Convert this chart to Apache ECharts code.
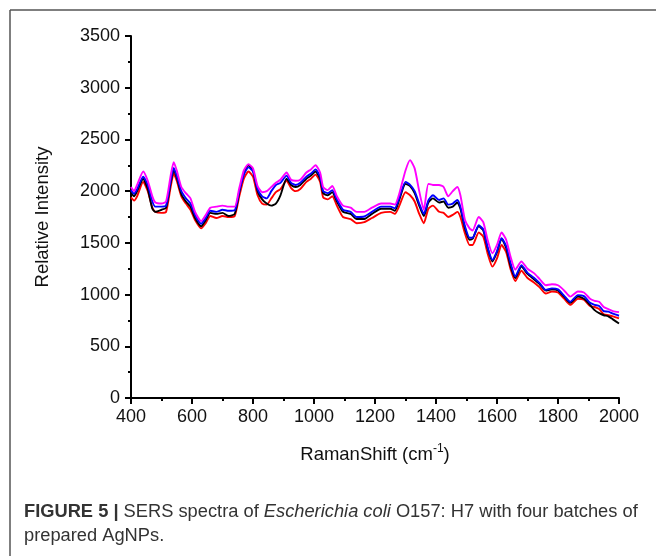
<!DOCTYPE html>
<html><head><meta charset="utf-8">
<script src="https://cdn.jsdelivr.net/npm/echarts@6/dist/echarts.min.js"></script>
<style>html,body{margin:0;padding:0;background:#fff}#c{width:656px;height:556px}</style>
</head><body><div id="c"></div>
<script>
const ramanShift = [400,410,420,440,455,470,480,500,515,530,540,550,565,580,595,610,630,645,660,680,700,720,740,755,770,785,800,815,830,845,860,875,890,910,925,940,955,975,990,1005,1020,1030,1045,1060,1075,1095,1120,1140,1165,1190,1220,1250,1265,1280,1300,1315,1330,1345,1360,1375,1390,1410,1425,1440,1455,1470,1480,1495,1510,1520,1540,1555,1570,1585,1600,1615,1630,1645,1660,1680,1700,1720,1740,1760,1780,1800,1820,1840,1865,1885,1905,1920,1935,1950,1965,1980,2000];

const batchBlack = [1990,1950,2000,2120,2020,1830,1800,1820,1840,2080,2200,2130,1970,1900,1850,1740,1660,1720,1790,1780,1790,1760,1780,1990,2170,2250,2200,2000,1920,1880,1860,1880,1960,2120,2060,2040,2060,2120,2150,2190,2120,1980,1960,1990,1900,1800,1780,1730,1730,1780,1830,1830,1810,1920,2070,2050,1980,1860,1760,1890,1930,1890,1900,1840,1850,1890,1830,1640,1530,1540,1660,1620,1440,1320,1410,1540,1450,1270,1160,1270,1200,1150,1100,1040,1050,1040,980,920,980,960,900,850,820,800,790,760,720];

const batchRed = [1940,1910,1950,2090,2000,1840,1800,1790,1800,2040,2170,2100,1950,1880,1820,1720,1640,1690,1760,1740,1760,1750,1760,1950,2120,2190,2140,1960,1880,1870,1930,1990,2020,2100,2030,2000,2020,2090,2120,2160,2090,1940,1920,1950,1860,1750,1730,1690,1700,1740,1790,1800,1780,1860,1990,1960,1900,1780,1690,1830,1860,1800,1790,1750,1770,1800,1750,1590,1480,1480,1600,1560,1390,1270,1350,1480,1410,1240,1130,1230,1160,1120,1070,1010,1030,1020,960,900,960,950,890,880,860,810,800,790,770];

const batchBlue = [2010,1975,2020,2140,2060,1900,1850,1850,1860,2100,2225,2150,2000,1930,1880,1770,1685,1740,1810,1800,1820,1810,1815,2000,2160,2230,2190,2020,1950,1930,2000,2060,2080,2150,2080,2060,2080,2140,2170,2210,2140,2000,1980,2010,1920,1820,1800,1750,1755,1800,1850,1850,1835,1940,2090,2060,2000,1880,1780,1910,1960,1915,1930,1870,1880,1915,1850,1660,1550,1550,1670,1630,1450,1335,1420,1545,1470,1300,1175,1285,1210,1165,1110,1045,1060,1050,990,930,995,985,920,900,890,840,835,815,795];

const batchMagenta = [2040,2000,2060,2190,2100,1950,1890,1880,1900,2150,2280,2200,2040,1980,1930,1800,1710,1770,1840,1850,1860,1850,1850,2030,2200,2260,2220,2050,1990,2000,2040,2080,2110,2180,2110,2100,2110,2180,2210,2250,2180,2040,2010,2050,1950,1860,1840,1800,1800,1840,1880,1880,1870,1980,2200,2300,2220,2000,1820,2070,2060,2060,2040,1950,2000,2040,1960,1720,1640,1620,1750,1700,1520,1400,1480,1600,1530,1360,1240,1320,1250,1210,1150,1090,1100,1090,1040,980,1030,1020,960,940,930,880,860,840,830];

const xTicks = [400,600,800,1000,1200,1400,1600,1800,2000];
const yTicks = [0,500,1000,1500,2000,2500,3000,3500];

function pairs(ys){ return ramanShift.map((x,i)=>[x, ys[i]]); }

const chart = echarts.init(document.getElementById('c'), null, {renderer:'canvas'});
const FONT = '"Liberation Sans", Arial, sans-serif';
const mk = (name, data, color) => ({
  name, type:'line', data: pairs(data), showSymbol:false, smooth:0.2,
  lineStyle:{color, width:1.9}, itemStyle:{color}, animation:false
});
chart.setOption({
  animation:false,
  grid:{left:131, right:37, top:36, bottom:158, containLabel:false},
  xAxis:{
    type:'value', min:xTicks[0], max:xTicks[xTicks.length-1], interval:200,
    axisLine:{lineStyle:{color:'#000', width:2}},
    axisTick:{show:true, length:6, inside:false, lineStyle:{color:'#000', width:2}},
    minorTick:{show:true, splitNumber:2, length:3, lineStyle:{color:'#000', width:2}},
    splitLine:{show:false},
    axisLabel:{color:'#111', fontSize:18, fontFamily:FONT, margin:10, formatter:(v)=>String(v)},
    name:'{a|RamanShift (cm}{s|-1}{a|)}', nameLocation:'middle', nameGap:45,
    nameTextStyle:{rich:{a:{fontSize:18.5, fontFamily:FONT, color:'#111'}, s:{fontSize:12, fontFamily:FONT, color:'#111', verticalAlign:'top', padding:[0,0,12,0]}}}
  },
  yAxis:{
    type:'value', min:yTicks[0], max:yTicks[yTicks.length-1], interval:500,
    axisLine:{show:true, lineStyle:{color:'#000', width:2}},
    axisTick:{show:true, length:6, inside:false, lineStyle:{color:'#000', width:2}},
    minorTick:{show:true, splitNumber:2, length:3, lineStyle:{color:'#000', width:2}},
    splitLine:{show:false},
    axisLabel:{color:'#111', fontSize:18, fontFamily:FONT, margin:11, formatter:(v)=>String(v)},
    name:'Relative Intensity', nameLocation:'middle', nameGap:79, nameRotate:90,
    nameTextStyle:{fontSize:18.5, fontFamily:FONT, color:'#111'}
  },
  series:[
    mk('Batch 4', batchRed, '#ff0000'),
    mk('Batch 1', batchBlack, '#000000'),
    mk('Batch 2', batchBlue, '#0000ff'),
    mk('Batch 3', batchMagenta, '#ff00ff')
  ],
  graphic:[
    {type:'line', shape:{x1:10, y1:10, x2:656, y2:10}, style:{stroke:'#555', lineWidth:1.5}},
    {type:'line', shape:{x1:10, y1:10, x2:10, y2:556}, style:{stroke:'#555', lineWidth:1.5}},
    {type:'text', left:24, top:503, style:{
      text:'{b|FIGURE 5 | }{n|SERS spectra of }{i|Escherichia coli}{n| O157: H7 with four batches of}',
      rich:{
        b:{fontSize:18.3, fontWeight:'bold', fontFamily:FONT, fill:'#333'},
        n:{fontSize:18.3, fontFamily:FONT, fill:'#333'},
        i:{fontSize:18.3, fontStyle:'italic', fontFamily:FONT, fill:'#333'}
      }}},
    {type:'text', left:24, top:527, style:{text:'prepared AgNPs.', fontSize:18.3, fontFamily:FONT, fill:'#333'}}
  ]
});
</script></body></html>
